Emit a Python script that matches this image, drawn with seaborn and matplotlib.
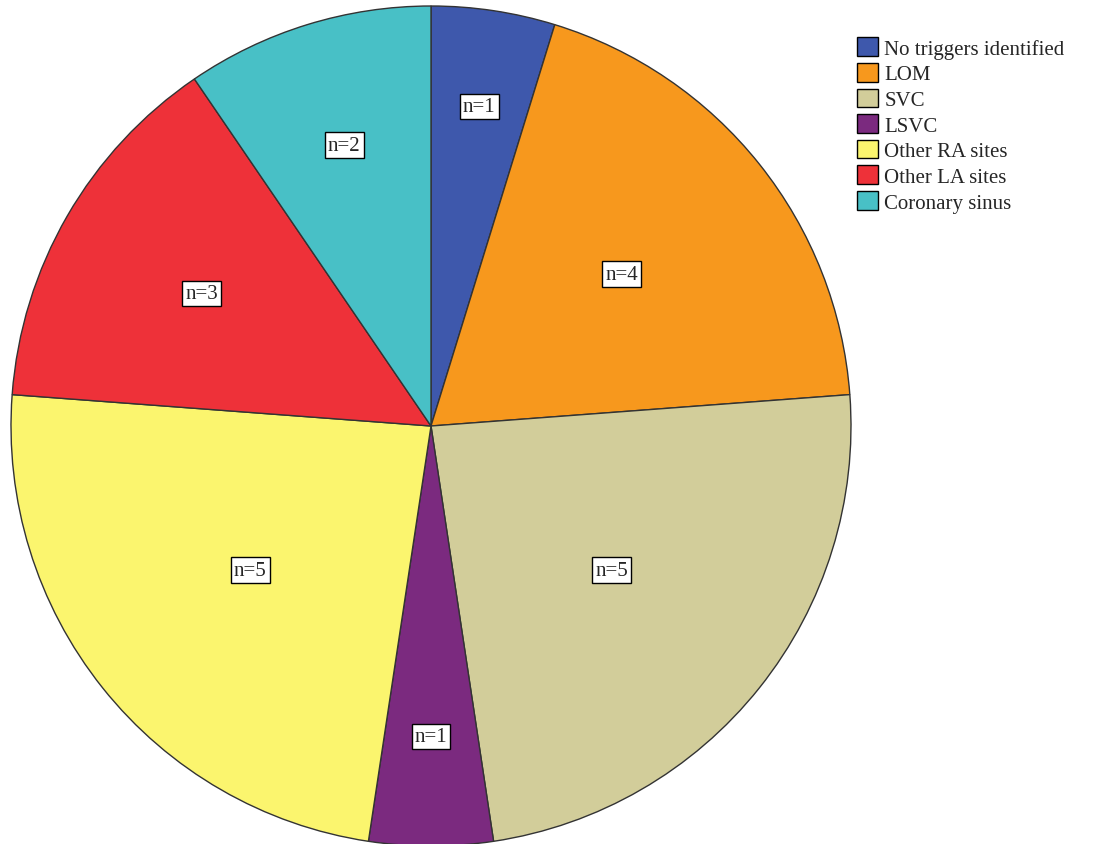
import numpy as np
import matplotlib
matplotlib.use("Agg")
import matplotlib.pyplot as plt
import seaborn as sns

categories = ["No triggers identified", "LOM", "SVC", "LSVC",
              "Other RA sites", "Other LA sites", "Coronary sinus"]
counts = [1, 4, 5, 1, 5, 3, 2]
colors = ["#3E58AC", "#F7981D", "#D2CD9A", "#7B2A7F",
          "#FBF56E", "#EE3139", "#48C0C6"]
label_dist = [0.77, 0.58, 0.55, 0.74, 0.55, 0.63, 0.7]

sns.set_theme(style="white")
plt.rcParams["font.family"] = ["Liberation Serif", "DejaVu Serif"]

fig = plt.figure(figsize=(11.1, 8.45), dpi=100)
ax = fig.add_axes([11 / 1110, -2 / 845, 840 / 1110, 840 / 845])
wedges, _ = ax.pie(counts, colors=colors, startangle=90, counterclock=False,
                   wedgeprops=dict(edgecolor="#333333", linewidth=1))
ax.set_xlim(-1.0, 1.0)
ax.set_ylim(-1.0, 1.0)
ax.set_aspect("equal")

for w, n, d in zip(wedges, counts, label_dist):
    ang = np.deg2rad((w.theta1 + w.theta2) / 2)
    ax.text(d * np.cos(ang), d * np.sin(ang), f"n={n}", ha="center", va="center",
            fontsize=15,
            bbox=dict(boxstyle="square,pad=0.15", facecolor="white", edgecolor="black", lw=1))

leg = fig.legend(wedges, categories, loc="upper left", bbox_to_anchor=(849 / 1110, 1 - 30 / 845),
                 frameon=False, fontsize=15, handlelength=1.0, handleheight=1.0,
                 handletextpad=0.3, labelspacing=0.2, borderaxespad=0)
for h in leg.legend_handles:
    h.set_edgecolor("black")

fig.savefig("out.png", dpi=100)
